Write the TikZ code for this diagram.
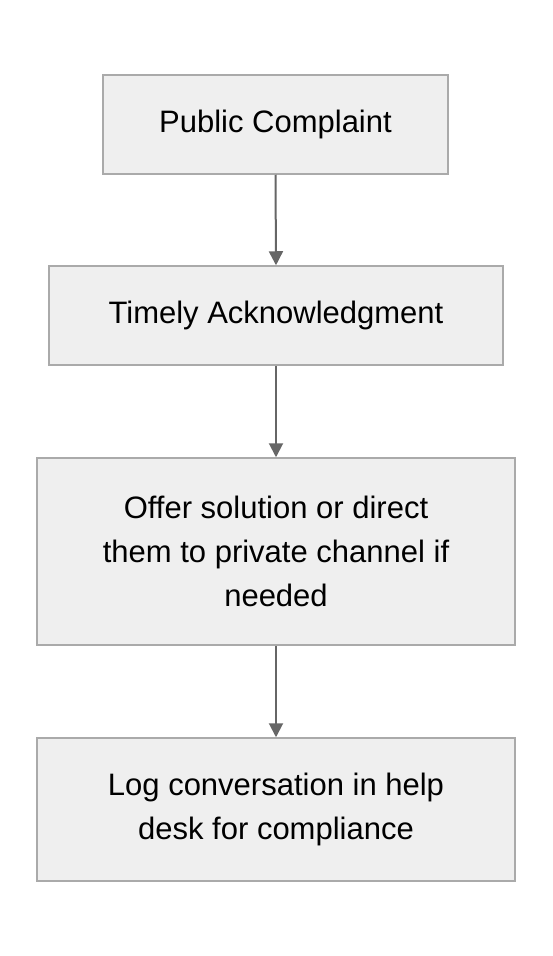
\documentclass[tikz,border=0pt]{standalone}
\usepackage{fontspec}
\setmainfont{Liberation Sans}
\usepackage{tikz}
\usetikzlibrary{arrows.meta}
\usepackage{xcolor}
\definecolor{boxfill}{HTML}{EFEFEF}
\definecolor{boxline}{HTML}{AAAAAA}
\definecolor{arrowline}{HTML}{666666}

\tikzset{
    stepbox/.style={draw=boxline, fill=boxfill, line width=1.5pt, inner sep=0pt,
        align=center, font=\fontsize{31}{44}\selectfont},
    flowarrow/.style={draw=arrowline, line width=2pt, -{Triangle[width=14pt,length=14pt]}}
}

\begin{document}
\begin{tikzpicture}[x=1pt, y=-1pt]
\useasboundingbox (0,0) rectangle (552,956);
% Boxes of the flow, top to bottom
\node[stepbox, minimum width=345pt, minimum height=99pt] (complaint) at (275.5,124.5) {Public Complaint};
\node[stepbox, minimum width=454pt, minimum height=99pt] (ack) at (276,315.5) {Timely Acknowledgment};
\node[stepbox, minimum width=478pt, minimum height=187pt] (offer) at (276,551.5) {Offer solution or direct\\them to private channel if\\needed};
\node[stepbox, minimum width=478pt, minimum height=143pt] (log) at (276,809.5) {Log conversation in help\\desk for compliance};

% Arrows between boxes
\draw[flowarrow] (complaint.south) -- (ack.north);
\draw[flowarrow] (ack.south) -- (offer.north);
\draw[flowarrow] (offer.south) -- (log.north);
\end{tikzpicture}
\end{document}
